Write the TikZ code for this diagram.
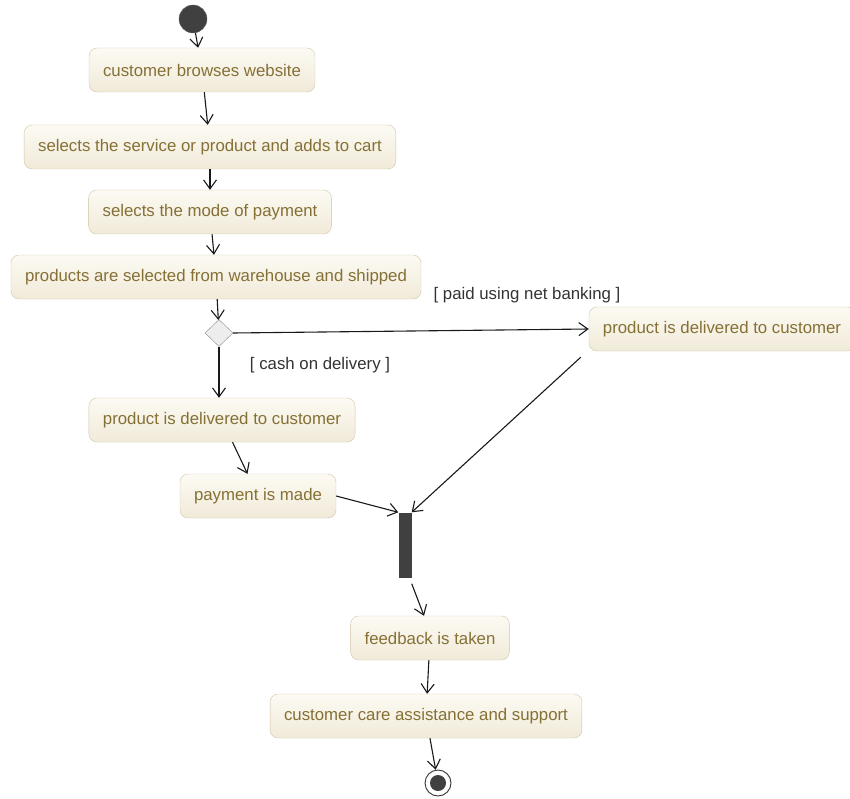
\documentclass[tikz,border=0pt]{standalone}
\usepackage{fontspec}
\setmainfont{Liberation Sans}
\usetikzlibrary{arrows.meta,shapes.geometric}
\definecolor{boxtext}{HTML}{857035}
\definecolor{boxline}{HTML}{D0C4A8}
\definecolor{boxtop}{HTML}{FCFAF3}
\definecolor{boxbot}{HTML}{F0EAD8}
\definecolor{darkfill}{HTML}{404040}
\tikzset{
	activity/.style={draw=boxline,rounded corners=8pt,top color=boxtop,bottom color=boxbot,
		text=boxtext,inner xsep=14pt,minimum height=44pt,font=\fontsize{16.8}{20}\selectfont},
	guard/.style={text=black!80,font=\fontsize{16.8}{20}\selectfont},
	flow/.style={draw=black!90,line width=1.1pt,-{Straight Barb[length=9pt,width=13pt,line width=1.1pt]}}
}
\begin{document}
\begin{tikzpicture}[x=1pt,y=-1pt]
				\useasboundingbox (0,0) rectangle (850,799);
				\node[circle,fill=darkfill,draw=black!60,minimum size=28pt,inner sep=0pt] (start) at (193,19) {};
				\node[activity] (browse) at (202,70) {customer browses website};
				\node[activity] (cart) at (210,147) {selects the service or product and adds to cart};
				\node[activity] (mode) at (210,212) {selects the mode of payment};
				\node[activity] (ship) at (216,277) {products are selected from warehouse and shipped};
				\node[diamond,draw=black!45,fill=black!7,minimum width=28pt,minimum height=27pt,inner sep=0pt] (choice) at (219,333) {};
				\node[activity] (netdel) at (722,329) {product is delivered to customer};
				\node[activity] (cashdel) at (222,420) {product is delivered to customer};
				\node[activity] (pay) at (258,496) {payment is made};
				\node[rectangle,fill=darkfill,minimum width=13pt,minimum height=65pt,inner sep=0pt] (join) at (405,545) {};
				\node[activity] (feedback) at (430,638) {feedback is taken};
				\node[activity] (care) at (426,716) {customer care assistance and support};
				\node[circle,draw=black!80,line width=0.9pt,minimum size=26pt,inner sep=0pt] (stop) at (438,783) {};
				\node[circle,fill=darkfill,minimum size=16pt,inner sep=0pt] at (stop) {};
				\node[guard] (netlabel) at (527,295) {[ paid using net banking ]};
				\node[guard] (cashlabel) at (320,365) {[ cash on delivery ]};
				% flows
				\draw[flow] (start) -- (browse);
				\draw[flow] (browse) -- (cart);
				\draw[flow] (cart) -- (mode);
				\draw[flow] (mode) -- (ship);
				\draw[flow] (ship) -- (choice);
				\draw[flow] (choice.south) -- (choice.south |- cashdel.north);
				\draw[flow] (choice.east) -- (netdel.west);
				\draw[flow] (cashdel) -- (pay);
				\draw[flow] (pay.east) -- (join.north west);
				\draw[flow] ([xshift=-8pt,yshift=-6pt]netdel.south west) -- (join.north east);
				\draw[flow] ([yshift=-6pt]join.south east) -- ([xshift=-6pt]feedback.north);
				\draw[flow] (feedback) -- (care);
				\draw[flow] (care) -- (stop);
			\end{tikzpicture}
\end{document}
